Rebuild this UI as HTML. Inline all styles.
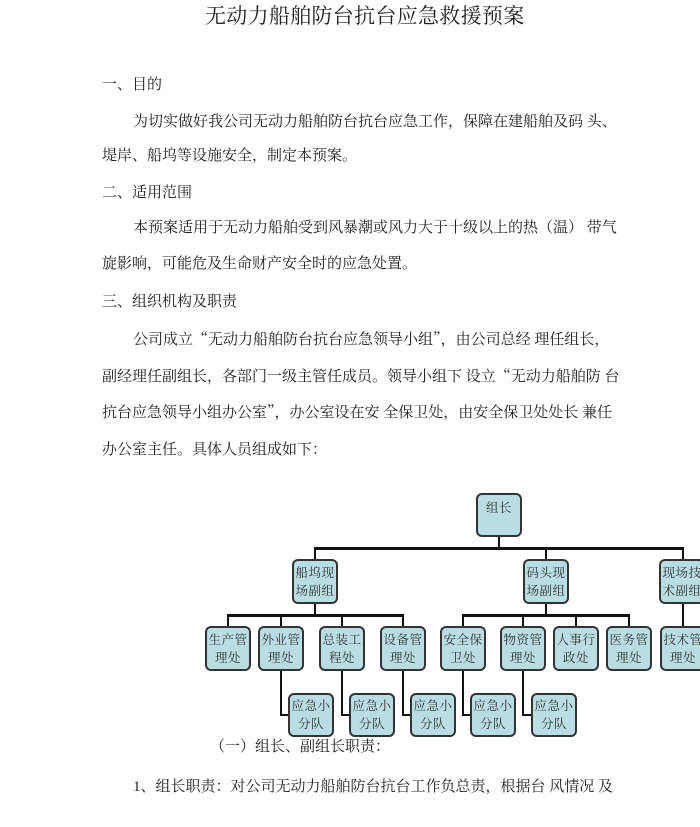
<!DOCTYPE html>
<html><head><meta charset="utf-8"><style>
body{margin:0;width:700px;height:827px;background:#fff;position:relative;overflow:hidden;font-family:"Liberation Serif","Noto Serif CJK SC",serif;color:#222}
.t{position:absolute;white-space:pre;font-size:15px;line-height:20px}
.q{font-family:"Noto Serif CJK SC",serif}
.b{position:absolute;background:#b9dde3;border:2px solid #333;border-radius:6px;box-sizing:border-box;font-size:12.5px;letter-spacing:0.5px;line-height:18px;text-align:center;display:flex;align-items:center;justify-content:center;color:#333}
.l{position:absolute;background:#111}
</style></head><body>
<div class="t" style="left:205px;top:3px;font-size:21px;line-height:26px;letter-spacing:0.3px">无动力船舶防台抗台应急救援预案</div>
<div class="t" style="left:102px;top:75px">一、目的</div>
<div class="t" style="left:133px;top:112px">为切实做好我公司无动力船舶防台抗台应急工作，保障在建船舶及码 头、</div>
<div class="t" style="left:102px;top:146px">堤岸、船坞等设施安全，制定本预案。</div>
<div class="t" style="left:102px;top:183px">二、适用范围</div>
<div class="t" style="left:133px;top:218px">本预案适用于无动力船舶受到风暴潮或风力大于十级以上的热（温） 带气</div>
<div class="t" style="left:102px;top:254px">旋影响，可能危及生命财产安全时的应急处置。</div>
<div class="t" style="left:102px;top:292px">三、组织机构及职责</div>
<div class="t" style="left:133px;top:329px">公司成立<span class="q">“</span>无动力船舶防台抗台应急领导小组<span class="q">”</span>，由公司总经 理任组长，</div>
<div class="t" style="left:102px;top:366px">副经理任副组长，各部门一级主管任成员。领导小组下 设立<span class="q">“</span>无动力船舶防 台</div>
<div class="t" style="left:102px;top:402px">抗台应急领导小组办公室<span class="q">”</span>，办公室设在安 全保卫处，由安全保卫处处长 兼任</div>
<div class="t" style="left:102px;top:440px">办公室主任。具体人员组成如下：</div>

<div class="l" style="left:498px;top:537px;width:2px;height:12px"></div>
<div class="l" style="left:314px;top:547px;width:370px;height:3px"></div>
<div class="l" style="left:314px;top:547px;width:2px;height:12px"></div>
<div class="l" style="left:545px;top:547px;width:2px;height:12px"></div>
<div class="l" style="left:682px;top:547px;width:2px;height:12px"></div>
<div class="l" style="left:314px;top:604px;width:2px;height:12px"></div>
<div class="l" style="left:545px;top:604px;width:2px;height:12px"></div>
<div class="l" style="left:682px;top:604px;width:2px;height:22px"></div>
<div class="l" style="left:227px;top:614px;width:177px;height:3px"></div>
<div class="l" style="left:462px;top:614px;width:168px;height:3px"></div>
<div class="l" style="left:227px;top:614px;width:2px;height:12px"></div>
<div class="l" style="left:280px;top:614px;width:2px;height:12px"></div>
<div class="l" style="left:341px;top:614px;width:2px;height:12px"></div>
<div class="l" style="left:402px;top:614px;width:2px;height:12px"></div>
<div class="l" style="left:462px;top:614px;width:2px;height:12px"></div>
<div class="l" style="left:522px;top:614px;width:2px;height:12px"></div>
<div class="l" style="left:575px;top:614px;width:2px;height:12px"></div>
<div class="l" style="left:628px;top:614px;width:2px;height:12px"></div>
<div class="l" style="left:280px;top:671px;width:2px;height:45px"></div><div class="l" style="left:280px;top:714px;width:9px;height:2px"></div>
<div class="l" style="left:341px;top:671px;width:2px;height:45px"></div><div class="l" style="left:341px;top:714px;width:9px;height:2px"></div>
<div class="l" style="left:402px;top:671px;width:2px;height:45px"></div><div class="l" style="left:402px;top:714px;width:9px;height:2px"></div>
<div class="l" style="left:462px;top:671px;width:2px;height:45px"></div><div class="l" style="left:462px;top:714px;width:9px;height:2px"></div>
<div class="l" style="left:522px;top:671px;width:2px;height:45px"></div><div class="l" style="left:522px;top:714px;width:10px;height:2px"></div>

<div class="b" style="left:476px;top:493px;width:46px;height:44px;align-items:flex-start;padding-top:4px">组长</div>
<div class="b" style="left:292px;top:559px;width:46px;height:45px">船坞现<br>场副组</div>
<div class="b" style="left:523px;top:559px;width:46px;height:45px">码头现<br>场副组</div>
<div class="b" style="left:659px;top:559px;width:46px;height:45px">现场技<br>术副组</div>

<div class="b" style="left:205px;top:626px;width:46px;height:45px">生产管<br>理处</div>
<div class="b" style="left:258px;top:626px;width:46px;height:45px">外业管<br>理处</div>
<div class="b" style="left:319px;top:626px;width:46px;height:45px">总装工<br>程处</div>
<div class="b" style="left:380px;top:626px;width:46px;height:45px">设备管<br>理处</div>
<div class="b" style="left:440px;top:626px;width:46px;height:45px">安全保<br>卫处</div>
<div class="b" style="left:500px;top:626px;width:46px;height:45px">物资管<br>理处</div>
<div class="b" style="left:553px;top:626px;width:46px;height:45px">人事行<br>政处</div>
<div class="b" style="left:606px;top:626px;width:46px;height:45px">医务管<br>理处</div>
<div class="b" style="left:660px;top:626px;width:46px;height:45px">技术管<br>理处</div>

<div class="b" style="left:288px;top:693px;width:46px;height:44px">应急小<br>分队</div>
<div class="b" style="left:349px;top:693px;width:46px;height:44px">应急小<br>分队</div>
<div class="b" style="left:410px;top:693px;width:46px;height:44px">应急小<br>分队</div>
<div class="b" style="left:470px;top:693px;width:46px;height:44px">应急小<br>分队</div>
<div class="b" style="left:531px;top:693px;width:46px;height:44px">应急小<br>分队</div>

<div class="t" style="left:210px;top:737px">（一）组长、副组长职责：</div>
<div class="t" style="left:133px;top:777px">1、组长职责：对公司无动力船舶防台抗台工作负总责，根据台 风情况 及</div>
</body></html>
